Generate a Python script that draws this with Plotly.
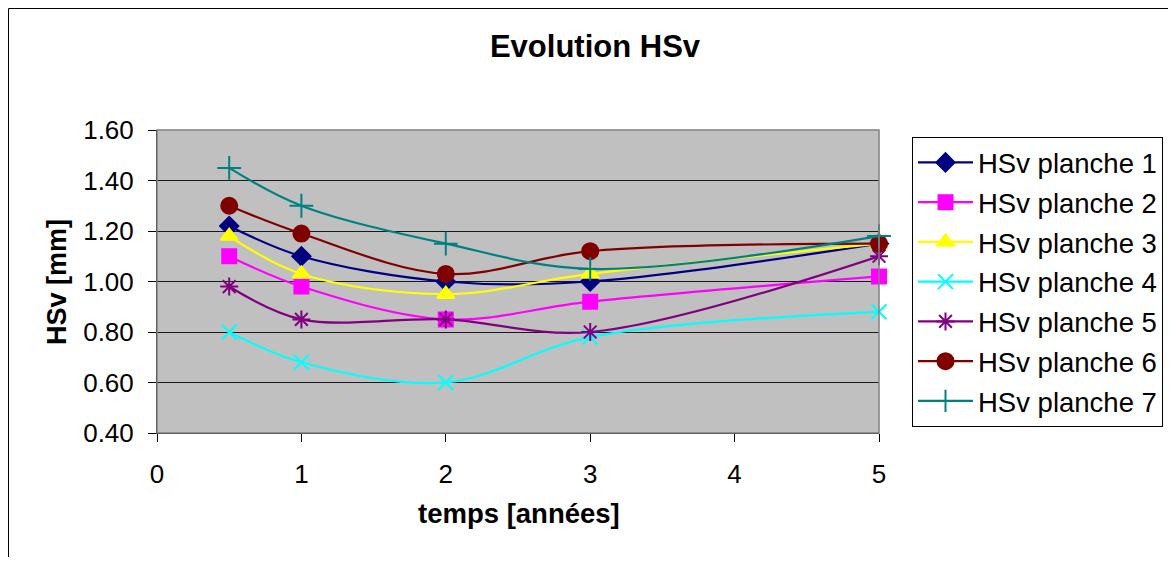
import plotly.graph_objects as go

x_years = [0.5, 1, 2, 3, 5]
names = ["HSv planche 1", "HSv planche 2", "HSv planche 3", "HSv planche 4",
         "HSv planche 5", "HSv planche 6", "HSv planche 7"]
planche1 = [1.22, 1.10, 1.00, 1.00, 1.15]
planche2 = [1.10, 0.98, 0.85, 0.92, 1.02]
planche3 = [1.18, 1.03, 0.95, 1.03, 1.15]
planche4 = [0.80, 0.68, 0.60, 0.78, 0.88]
planche5 = [0.98, 0.85, 0.85, 0.80, 1.10]
planche6 = [1.30, 1.19, 1.03, 1.12, 1.15]
planche7 = [1.45, 1.30, 1.15, 1.05, 1.18]
series = [planche1, planche2, planche3, planche4, planche5, planche6, planche7]
y_ticks = [0.4, 0.6, 0.8, 1.0, 1.2, 1.4, 1.6]
x_ticks = [0, 1, 2, 3, 4, 5]

colors = ["#000080", "#FF00FF", "#FFFF00", "#00FFFF", "#800080", "#800000", "#008080"]
symbols = ["diamond", "square", "triangle-up", "x-thin-open", "asterisk-open", "circle", "cross-thin-open"]
sizes = [14, 14, 15, 15, 15, 16, 17]

FONT = "Liberation Sans, Arial, sans-serif"

fig = go.Figure()
for i, (name, ys, c, s, sz) in enumerate(zip(names, series, colors, symbols, sizes)):
    fig.add_trace(go.Scatter(
        x=x_years, y=ys, name=name, mode="lines+markers", legendgroup=f"g{i}",
        line=dict(color=c, width=2.2, shape="spline", smoothing=1.0),
        marker=dict(symbol=s, size=sz, color=c, line=dict(color=c, width=2)),
        cliponaxis=False,
    ))

OFF = 8  # page body margin
W, H = 1176 - 2 * OFF, 565 - 2 * OFF
# plot area in screen px
SL, SR, ST, SB = 157, 879, 130, 433
L, R, T, B = SL - OFF, SR - OFF, ST - OFF, SB - OFF
pw, ph = R - L, B - T


def px(xs):
    return (xs - OFF - L) / pw


def py(ys):
    return (B - (ys - OFF)) / ph


fig.update_layout(
    width=W, height=H,
    margin=dict(l=L, r=W - R, t=T, b=H - B, pad=0, autoexpand=False),
    paper_bgcolor="white",
    plot_bgcolor="#C0C0C0",
    font=dict(family=FONT, size=26, color="black"),
    title=dict(text="<b>Evolution HSv</b>", x=(595 - OFF) / W, xanchor="center",
               y=1 - (46 - OFF) / H, yanchor="middle", font=dict(size=31, family=FONT)),
    showlegend=True,
    legend=dict(
        x=px(912), xanchor="left",
        y=py(137), yanchor="top",
        bordercolor="black", borderwidth=1, bgcolor="white",
        font=dict(size=27.5, family=FONT),
        itemwidth=55,
        tracegroupgap=1,
        traceorder="grouped",
    ),
    xaxis=dict(
        range=[0, 5], tickvals=x_ticks, ticktext=[str(v) for v in x_ticks],
        showgrid=False, zeroline=False,
        ticks="outside", ticklen=8, tickcolor="black",
        showline=True, linecolor="black", linewidth=1,
        ticklabelstandoff=10,
        tickfont=dict(size=26),
    ),
    yaxis=dict(
        range=[0.4, 1.6], tickvals=y_ticks, ticktext=[f"{v:.2f}" for v in y_ticks],
        showgrid=True, gridcolor="#1a1a1a", gridwidth=1, zeroline=False,
        ticks="outside", ticklen=8, tickcolor="black",
        showline=True, linecolor="black", linewidth=1,
        ticklabelstandoff=9,
        tickfont=dict(size=26),
    ),
    annotations=[
        dict(text="<b>temps [années]</b>", xref="paper", yref="paper",
             x=px(519), y=py(513), xanchor="center", yanchor="middle",
             showarrow=False, font=dict(size=27.5, family=FONT)),
        dict(text="<b>HSv [mm]</b>", xref="paper", yref="paper",
             x=px(57), y=py(282), xanchor="center", yanchor="middle",
             textangle=-90, showarrow=False, font=dict(size=27, family=FONT)),
    ],
    shapes=[
        dict(type="rect", xref="paper", yref="paper",
             x0=0, x1=1, y0=0, y1=1, line=dict(color="#808080", width=1.5), layer="above"),
        dict(type="rect", xref="paper", yref="paper",
             x0=(0.5 - L) / pw, x1=(W + 20 - L) / pw,
             y0=(B - (H + 20)) / ph, y1=(B - 0.5) / ph,
             line=dict(color="black", width=1), layer="above"),
    ],
)

fig.write_html("out.html")
